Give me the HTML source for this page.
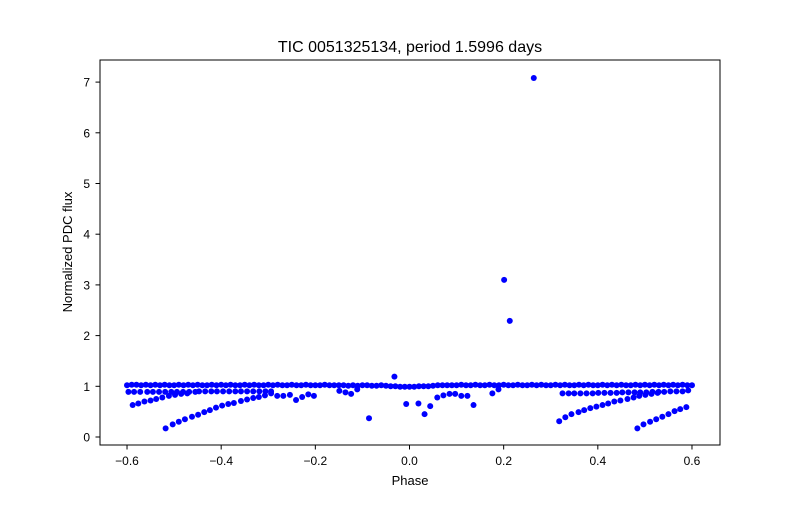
<!DOCTYPE html>
<html><head><meta charset="utf-8"><style>
body{margin:0;background:#fff}
svg text{font-family:"Liberation Sans","DejaVu Sans",sans-serif;fill:#000}
</style></head><body>
<svg id="chart" width="800" height="500">
<rect width="800" height="500" fill="#fff"/>
<text x="410" y="52" font-size="16" text-anchor="middle">TIC 0051325134, period 1.5996 days</text>
<g id="axes"></g>
<g id="points"></g>
<rect x="100" y="60" width="620" height="385" fill="none" stroke="#000" stroke-width="1"/>
<text x="410" y="485" font-size="13" text-anchor="middle">Phase</text>
<text x="0" y="0" font-size="13" text-anchor="middle" transform="translate(72,252) rotate(-90)">Normalized PDC flux</text>
</svg>
<script>
const xTicks=[-0.6,-0.4,-0.2,0,0.2,0.4,0.6];
const xTickLabels=["\u22120.6","\u22120.4","\u22120.2","0.0","0.2","0.4","0.6"];
const yTicks=[0,1,2,3,4,5,6,7];
const yTickLabels=["0","1","2","3","4","5","6","7"];
const bandY=[1.02,1.03,1.03,1.02,1.03,1.02,1.03,1.02,1.03,1.02,1.02,1.03,1.02,1.03,1.02,1.03,1.02,1.02,1.03,1.02,1.03,1.02,1.03,1.02,1.02,1.03,1.02,1.03,1.02,1.02,1.03,1.02,1.03,1.02,1.02,1.03,1.02,1.02,1.03,1.02,1.02,1.02,1.03,1.02,1.02,1.02,1.02,1.01,1.02,1.01,1.02,1.02,1.01,1.01,1.02,1.01,1.0,1.0,0.99,0.99,0.99,0.99,1.0,1.0,1.0,1.01,1.02,1.02,1.02,1.02,1.02,1.03,1.02,1.02,1.03,1.02,1.02,1.03,1.02,1.02,1.03,1.02,1.02,1.03,1.02,1.02,1.03,1.02,1.03,1.02,1.02,1.03,1.02,1.03,1.02,1.02,1.03,1.02,1.03,1.02,1.02,1.03,1.02,1.03,1.02,1.03,1.02,1.02,1.03,1.02,1.03,1.02,1.03,1.02,1.03,1.02,1.03,1.02,1.03,1.02,1.02];
const row2X=[-0.597,-0.585,-0.572,-0.557,-0.545,-0.532,-0.519,-0.506,-0.494,-0.481,-0.468,-0.455,-0.447,-0.434,-0.421,-0.409,-0.396,-0.383,-0.370,-0.358,-0.345,-0.332,-0.319,-0.306,-0.294];
const row2Y=[0.89,0.89,0.89,0.89,0.89,0.89,0.89,0.89,0.89,0.89,0.89,0.89,0.9,0.9,0.9,0.9,0.9,0.9,0.9,0.9,0.9,0.9,0.9,0.9,0.9];
const curveAX=[-0.588,-0.576,-0.563,-0.550,-0.538,-0.525,-0.511,-0.498,-0.485,-0.472];
const curveAY=[0.63,0.66,0.70,0.72,0.75,0.78,0.81,0.83,0.85,0.86];
const curveBX=[-0.518,-0.503,-0.490,-0.477,-0.462,-0.449,-0.436,-0.424,-0.411,-0.398,-0.385,-0.373,-0.358,-0.345,-0.332,-0.320,-0.307,-0.294];
const curveBY=[0.17,0.25,0.30,0.35,0.40,0.44,0.49,0.53,0.58,0.62,0.65,0.67,0.71,0.74,0.77,0.79,0.82,0.86];
const midX=[-0.281,-0.268,-0.254,-0.241,-0.228,-0.215,-0.203,-0.149,-0.136,-0.124,-0.111,-0.086,-0.032,-0.007,0.019,0.032,0.044,0.059,0.072,0.085,0.097,0.110,0.123,0.136,0.176,0.189,0.201,0.213,0.264];
const midY=[0.81,0.81,0.83,0.73,0.79,0.84,0.81,0.91,0.88,0.85,0.94,0.37,1.19,0.65,0.66,0.45,0.61,0.78,0.82,0.85,0.85,0.81,0.81,0.63,0.86,0.94,3.10,2.29,7.08];
const row3X=[0.325,0.338,0.350,0.363,0.376,0.389,0.401,0.414,0.427,0.440,0.452,0.465,0.478,0.490,0.503,0.516,0.529,0.541,0.554,0.567,0.580,0.592];
const row3Y=[0.86,0.86,0.86,0.86,0.86,0.86,0.87,0.87,0.87,0.87,0.88,0.88,0.88,0.88,0.88,0.89,0.89,0.89,0.9,0.9,0.9,0.92];
const curveCX=[0.318,0.331,0.344,0.359,0.371,0.384,0.397,0.410,0.422,0.435,0.448,0.463,0.476,0.488,0.501,0.514,0.527];
const curveCY=[0.31,0.39,0.45,0.49,0.53,0.57,0.60,0.63,0.66,0.70,0.72,0.75,0.78,0.81,0.83,0.85,0.87];
const curveDX=[0.484,0.497,0.511,0.524,0.537,0.550,0.563,0.575,0.588];
const curveDY=[0.17,0.25,0.30,0.35,0.40,0.45,0.51,0.55,0.59];

const NS="http://www.w3.org/2000/svg";
function sx(v){return 409.5+v*470.8;}
function sy(v){return 437-v*50.7;}
const axes=document.getElementById('axes');
xTicks.forEach((t,i)=>{
  const l=document.createElementNS(NS,'line');
  l.setAttribute('x1',sx(t));l.setAttribute('x2',sx(t));l.setAttribute('y1',445);l.setAttribute('y2',449.5);l.setAttribute('stroke','#000');
  
  
  axes.appendChild(l);
  const tx=document.createElementNS(NS,'text');
  tx.setAttribute('x',sx(t));tx.setAttribute('y',465);tx.setAttribute('font-size','12');tx.setAttribute('text-anchor','middle');
  tx.textContent=xTickLabels[i];
  
  
  axes.appendChild(tx);
});
yTicks.forEach((t,i)=>{
  const l=document.createElementNS(NS,'line');
  l.setAttribute('x1',95.5);l.setAttribute('x2',100);l.setAttribute('y1',sy(t));l.setAttribute('y2',sy(t));l.setAttribute('stroke','#000');
  
  
  axes.appendChild(l);
  const tx=document.createElementNS(NS,'text');
  tx.setAttribute('x',90);tx.setAttribute('y',sy(t)+4.5);tx.setAttribute('font-size','12');tx.setAttribute('text-anchor','end');
  tx.textContent=yTickLabels[i];
  
  
  axes.appendChild(tx);
});
const pts=document.getElementById('points');
function plot(xs,ys){
  xs.forEach((x,i)=>{
    const c=document.createElementNS(NS,'circle');
    c.setAttribute('cx',sx(x));c.setAttribute('cy',sy(ys[i]));c.setAttribute('r',3);c.setAttribute('fill','#0000ff');
    
    
    pts.appendChild(c);
  });
}
const bandX=bandY.map((_,i)=>-0.6+i*0.01);
plot(bandX,bandY);
plot(row2X,row2Y);plot(curveAX,curveAY);plot(curveBX,curveBY);
plot(midX,midY);plot(row3X,row3Y);plot(curveCX,curveCY);plot(curveDX,curveDY);
</script>
</body></html>
